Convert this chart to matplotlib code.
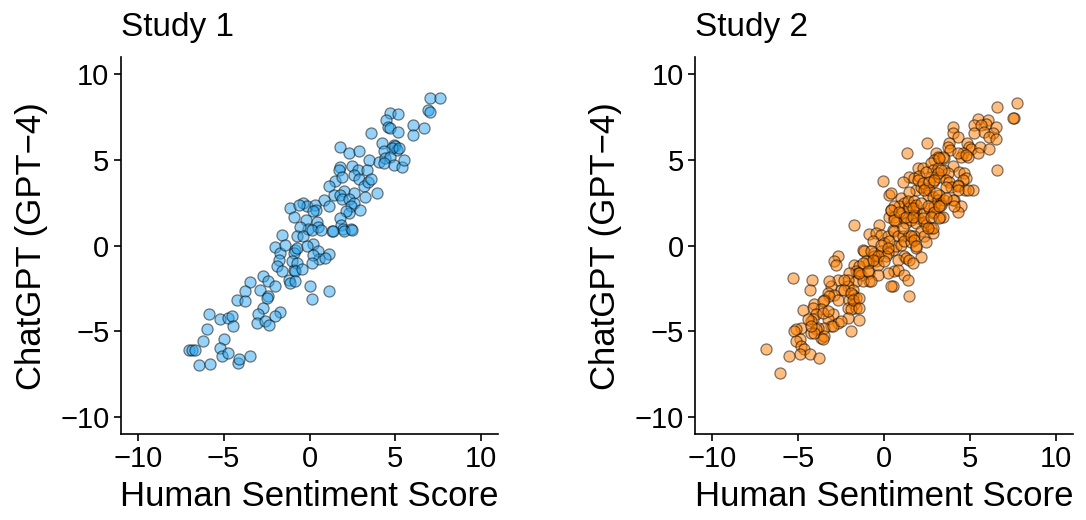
import matplotlib.pyplot as plt

plt.rcParams['font.family'] = ['Liberation Sans', 'DejaVu Sans']

# Study 1: human score (x) vs ChatGPT score (y)
study1_x = [7.03, 7.58, 6.9, 7.0, 4.66, 5.13, 4.47, 4.56, 4.7, 6.02, 6.68, 6.02, 5.13, 3.58,
            4.22, 4.9, 5.0, 5.1, 4.8, 5.2, 1.79, 2.27, 2.91, 4.35, 3.49, 4.02, 4.4, 4.7, 4.35,
            4.93, 5.38, 5.48, 1.79, 1.7, 2.47, 2.85, 3.34, 1.5, 1.9, 2.6, 2.9, 1.16, 2.0, 2.6,
            3.2, 3.4, 3.6, 3.92, 3.24, 1.4, 1.75, 0.82, 1.9, 2.3, 2.6, 2.4, -0.35, -0.15, 0.33,
            0.4, 0.2, 1.16, 2.95, 2.3, 2.1, -0.2, -0.1, 0.45, 0.5, 1.75, 1.85, 1.95, 2.4, 1.3,
            -1.12, -0.64, -0.93, -0.58,
            -1.61, -0.73, -2.0, -1.71, -1.8, -1.9, -1.61, -1.42, -0.83, -0.93, -0.73, -1.03,
            -0.93, -0.73, -0.83, -1.22, -1.12, -0.83, -2.68, -2.39, -2.0, -3.45, -2.87, -2.39,
            -2.48, -3.75, -4.23, -3.75, -2.68, -2.97, -3.06, -1.71, -2.0, -2.58, -2.33, -5.88,
            -5.2, -4.72, -4.52, -4.43, -5.98, -6.21, -4.97, -6.99, -6.85, -6.66, -5.2, -5.1,
            -4.72, -6.41, -5.78, -4.19, -4.08, -3.45,
            -0.35, 0.14, 0.66, 1.34, 1.98, 2.47, 0.23, -0.15, 0.47, 0.58, 0.23, 1.11, 0.91,
            0.14, -0.44, 0.04, 1.11, 0.14]
study1_y = [8.64, 8.64, 7.9, 7.8, 7.77, 7.66, 7.33, 6.94, 6.84, 7.02, 6.88, 6.44, 6.65, 6.55,
            6.01, 5.9, 5.8, 5.6, 5.7, 5.68, 5.77, 5.42, 5.54, 5.54, 5.0, 4.9, 5.1, 5.2, 4.8,
            4.71, 4.58, 5.0, 4.58, 4.4, 4.65, 4.42, 4.42, 3.8, 4.0, 4.1, 3.9, 3.49, 3.2, 3.1,
            3.5, 3.7, 3.9, 3.1, 2.87, 2.97, 2.97, 2.67, 2.7, 2.7, 2.5, 2.3, 2.48, 2.3, 2.38,
            2.1, 2.0, 2.33, 2.09, 1.9, 2.0, 1.5, 1.0, 1.4, 1.1, 1.6, 1.2, 1.0, 1.0, 0.85,
            2.19, 2.38, 1.7, 1.12,
            0.64, 0.58, -0.08, -0.43, -0.81, -1.2, -1.49, 0.06, -0.23, -0.43, -0.13, -0.91,
            -1.4, -1.0, -1.49, -1.98, -2.17, -2.07, -1.78, -2.07, -2.36, -2.11, -2.56, -2.95,
            -3.05, -2.66, -3.14, -3.24, -3.66, -4.01, -4.53, -3.88, -4.11, -4.4, -4.65, -4.01,
            -4.3, -4.2, -4.11, -4.69, -4.88, -5.56, -5.42, -6.09, -6.09, -6.09, -5.95, -6.44,
            -6.24, -6.98, -6.88, -6.86, -6.63, -6.44,
            0.54, 0.93, 0.93, 0.83, 0.83, 0.93, 0.12, -0.04, -0.33, -0.77, -0.52, -0.47, -0.72,
            -1.01, -1.36, -2.33, -2.66, -3.1]

# Study 2
study2_x = [-0.08, 0.31, -1.73, -0.27, -0.85, -0.47, -0.17, 0.21, 0.31, 0.41,
            6.57, 7.77, 7.54, 7.5, 5.48, 6.03, 5.93, 5.21, 5.64, 6.51, 6.32, 5.8, 5.25, 6.12,
            6.51, 3.99, 3.99, 4.28, 2.5, 3.8, 3.74, 3.85, 4.83, 4.96, 5.06, 5.6, 5.48, 6.12,
            4.58, 4.48, 4.87, 1.34, 3.02, 3.12, 3.51, 2.92, 3.99, 1.96, 2.25, 2.73, 2.83, 3.12,
            3.51, 3.7, 4.38, 4.67, 4.77, 4.58, 6.57, 1.47, 1.09, 1.76, 2.05, 2.73, 2.83, 3.22,
            3.6, 3.8, 3.9, 3.6, 4.28, 4.3, 4.71, 5.16, 0.41, 0.99, 1.18, 0.89, 0.6, 0.99, 1.38,
            1.57, 1.86, 2.15, 2.44, 2.54, 2.63, 2.83, 3.22, 3.12, 3.31, 3.51, 4.09, 4.48, 4.28,
            3.99, 1.47, 1.86, 1.76, 1.96, 2.34, 2.63, 2.83, 2.92, 3.31, 3.28, 0.6, 0.7, 1.18,
            1.28, 1.57, 1.86, 2.34, 2.44, 2.73, 2.15, 0.5, 0.6, 0.8, 1.09, 1.47, 1.76, 2.34,
            2.83,
            0.5, 0.7, 0.99, 1.18, 1.57, 1.86, 2.44, 1.18, 0.8, 1.28, 1.47, 2.15, 1.67, 0.6, 0.8,
            1.18, 1.38, 0.5, 1.47,
            -0.66, 0.02, 0.31, -1.24, -1.15, -0.56, -0.17, 0.21, -0.56, 0.12, -0.47, -0.37,
            -0.95, -1.05, 0.21, 0.41, -2.69, -2.89, -2.79, -1.73, -1.44, -1.63, -1.53, -2.02,
            -1.34, -0.85, -0.37, -0.85, -1.63, -1.24, -2.11, -5.31, -4.2, -4.28, -2.69, -3.08,
            -2.11, -1.82, -2.5, -3.27, -2.89, -3.18, -2.69, -3.47, -1.82, -1.63, -2.02, -1.73,
            -2.11, -1.63, -1.92, -4.05, -3.57, -3.67, -4.15, -3.96, -4.15, -4.24, -4.73, -4.83,
            -5.12, -5.22, -2.98, -3.27, -2.69, -3.08, -3.47, -3.86, -3.67, -3.96, -4.24, -4.05,
            -3.47, -3.57, -2.11, -1.44, -1.92, -4.9, -5.12, -4.83, -4.63, -4.9, -4.32, -3.76,
            -5.51, -6.86, -6.03,
            3.41, 3.22, 4.28, 4.77, 2.44, 3.12, 3.31, 1.96, 2.25, 2.63, 2.92, 4.87, 4.28, 1.47,
            2.34, 3.02, 3.6, 4.09, 1.38, 1.76, 1.86, 1.67, 2.15, 2.54, 2.92, 3.22, 3.41, 0.41,
            0.6, 0.89, 1.28, 1.67, 2.25, 2.73, 2.83, 3.22, 2.54, 1.09, 1.57, 1.76, 1.86,
            -0.17, -0.76, 0.21, -0.37, -0.66, 0.02, -1.24, -1.44, -0.95, -2.31, -0.76, -3.18,
            -2.31, -1.92, -1.82, -1.44, -1.44, -3.57, -4.43, -4.24, -3.27, -2.98, -2.5]
study2_y = [3.78, 2.97, 1.22, 1.22, 0.7, 0.74, 0.64, 0.54, 1.7, 2.09,
            8.1, 8.3, 7.48, 7.44, 7.37, 7.33, 7.13, 7.03, 7.03, 6.9, 6.59, 6.65, 6.55, 6.35,
            6.2, 6.94, 6.55, 6.35, 6.01, 5.97, 5.77, 5.58, 5.97, 5.77, 5.62, 5.77, 5.39, 5.62,
            5.39, 5.19, 5.19, 5.43, 5.43, 5.19, 5.1, 5.0, 4.65, 4.52, 4.52, 4.81, 4.42, 4.52,
            4.42, 4.26, 4.32, 4.22, 3.94, 3.84, 4.42, 3.99, 3.74, 3.94, 4.07, 3.99, 3.74, 3.99,
            3.84, 3.74, 3.45, 3.45, 3.55, 3.5, 3.26, 3.26, 3.06, 2.77, 2.48, 2.29, 2.29, 1.9,
            2.19, 2.38, 3.26, 3.45, 3.35, 2.97, 3.26, 2.87, 2.97, 2.67, 2.48, 2.67, 2.67, 2.29,
            1.99, 2.67, 2.19, 2.09, 1.8, 1.61, 1.9, 2.19, 1.9, 2.29, 2.38, 1.67, 1.7, 1.41,
            1.61, 1.32, 1.51, 1.32, 1.41, 1.22, 1.03, 0.83, 0.93, 0.83, 0.54, 0.58, 0.64, 0.54,
            0.54, 0.74,
            -0.23, -0.04, 0.06, 0.25, 0.19, -0.13, 0.19, -0.62, -0.81, -0.72, -0.81, -0.66,
            -1.01, -1.49, -1.4, -1.69, -2.02, -2.33, -2.91,
            0.25, 0.16, 0.25, -0.23, -0.33, -0.43, -0.33, -0.43, -0.62, -0.62, -0.91, -1.1,
            -1.01, -0.91, -1.59, -2.36, -0.62, -0.91, -1.1, -1.1, -1.2, -1.49, -1.59, -1.59,
            -1.69, -1.59, -1.69, -2.07, -2.07, -2.07, -1.98, -1.88, -2.02, -2.56, -1.98, -2.36,
            -2.36, -2.56, -2.56, -2.75, -2.85, -2.95, -3.14, -3.14, -2.85, -3.04, -3.14, -3.43,
            -3.62, -3.62, -3.72, -3.43, -3.24, -3.72, -3.62, -4.01, -4.3, -4.4, -3.76, -4.79,
            -4.88, -4.98, -4.01, -4.3, -4.49, -4.69, -4.79, -4.79, -5.37, -4.88, -5.08, -5.12,
            -5.27, -5.47, -4.2, -4.34, -4.98, -5.47, -5.56, -5.85, -6.05, -6.34, -6.34, -6.53,
            -6.43, -6.01, -7.44,
            5.19, 5.1, 5.39, 5.29, 4.32, 4.22, 4.42, 3.84, 3.64, 3.74, 3.84, 3.26, 3.26, 3.16,
            3.26, 3.06, 2.77, 2.29, 2.58, 2.58, 2.38, 2.19, 2.48, 2.29, 1.99, 2.29, 1.7, 2.09,
            1.51, 1.99, 1.7, 1.7, 1.61, 1.7, 1.03, 1.61, 1.03, 1.03, 0.54, 0.35, -0.04,
            0.06, -0.33, -0.13, -0.62, -0.81, -0.91, -1.01, -1.59, -1.49, -1.98, -2.07, -2.07,
            -2.56, -2.75, -3.14, -3.04, -3.62, -3.91, -4.3, -4.69, -3.82, -4.69, -4.4]

panels = [
    ('Study 1', study1_x, study1_y, '#2ea6f0'),
    ('Study 2', study2_x, study2_y, '#ff7f00'),
]

dpi = 100
fig = plt.figure(figsize=(1086 / dpi, 520 / dpi), dpi=dpi)
lefts = [0.111, 0.640]

for (title, xs, ys, color), left in zip(panels, lefts):
    ax = fig.add_axes([left, 0.165, 0.348, 0.725])
    ax.scatter(xs, ys, s=64, c=color, edgecolors='black', linewidths=0.9, alpha=0.5,
               zorder=2)
    ax.set_xlim(-11, 11)
    ax.set_ylim(-11, 11)
    ticks = [-10, -5, 0, 5, 10]
    labels = ['\u221210', '\u22125', '0', '5', '10']
    ax.set_xticks(ticks, labels)
    ax.set_yticks(ticks, labels)
    ax.spines['top'].set_visible(False)
    ax.spines['right'].set_visible(False)
    ax.spines['left'].set_linewidth(1.2)
    ax.spines['bottom'].set_linewidth(1.2)
    ax.tick_params(labelsize=21, length=5, width=1.2, colors='black', pad=3)
    ax.set_xlabel('Human Sentiment Score', fontsize=25, labelpad=5)
    ax.set_ylabel('ChatGPT (GPT\u22124)', fontsize=25, labelpad=9)
    ax.set_title(title, fontsize=24, loc='left', pad=15)

fig.savefig('out.png', dpi=dpi)
